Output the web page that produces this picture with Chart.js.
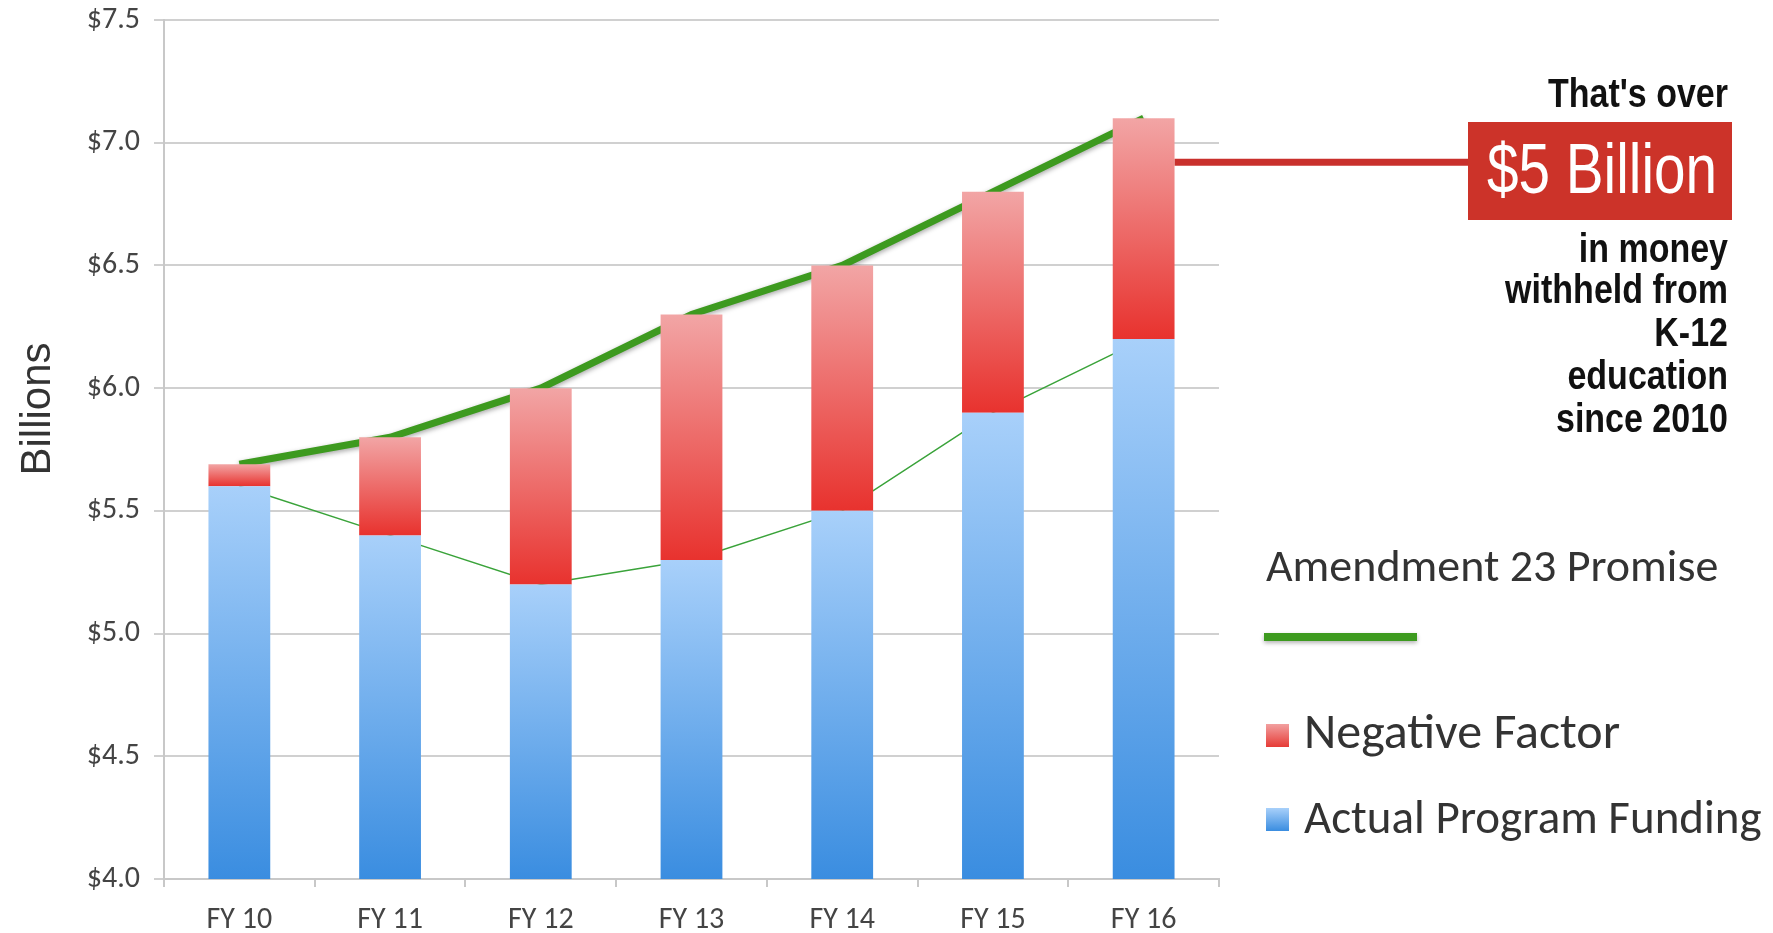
<!DOCTYPE html>
<html>
<head>
<meta charset="utf-8">
<script src="https://cdn.jsdelivr.net/npm/chart.js@4"></script>
<style>
html,body{margin:0;padding:0;background:#fff;}
#wrap{width:1773px;height:933px;}
</style>
</head>
<body>
<div id="wrap"><canvas id="fundingChart" width="1773" height="933"></canvas></div>
<script>
// DATA

const years=["FY 10","FY 11","FY 12","FY 13","FY 14","FY 15","FY 16"];

const actualFunding=[5.6,5.4,5.2,5.3,5.5,5.9,6.2];

const promise=[5.69,5.8,6.0,6.3,6.5,6.8,7.1];

const yTicks=[4.0,4.5,5.0,5.5,6.0,6.5,7.0,7.5];

// negative factor = gap between promise and actual funding
const negativeRange=actualFunding.map((a,i)=>[a,promise[i]]);

const tickFont="Carlito, Lato, sans-serif";
const sansFont="'Liberation Sans', Arial, sans-serif";

function barGradient(ctx,top,bottom,c1,c2){
const chart=ctx.chart;
if(!chart.chartArea) return c2;
const y=chart.scales.y;
const g=chart.ctx.createLinearGradient(0,y.getPixelForValue(top),0,y.getPixelForValue(bottom));
g.addColorStop(0,c1);
g.addColorStop(1,c2);
return g;
}

// no narrow font installed, so squeeze text sideways
function narrowText(c,text,x,y,sx){
c.save();
c.translate(x,y);
c.scale(sx,1);
c.fillText(text,0,0);
c.restore();
}

// soft shadow under the promise line
const lineShadow={
id:"lineShadow",
beforeDatasetDraw(chart,args){
if(args.index!==2) return;
const c=chart.ctx;
c.save();
c.shadowColor="rgba(0,0,0,0.35)";
c.shadowBlur=5;
c.shadowOffsetY=2;
},
afterDatasetDraw(chart,args){
if(args.index===2) chart.ctx.restore();
}
};

// legend + callout drawn by hand
const sidePanel={
id:"sidePanel",
afterDraw(chart){
const c=chart.ctx;
const y=chart.scales.y;
const x=chart.scales.x;
c.save();

// y axis title
c.save();
c.translate(38,409);
c.rotate(-Math.PI/2);
c.fillStyle="#333";
c.font="42px "+sansFont;
c.textAlign="center";
c.textBaseline="middle";
c.fillText("Billions",0,0);
c.restore();

// red connector from FY16 bar to box
const barRight=x.getPixelForValue(6)+31;
const ly=y.getPixelForValue(6.92);
c.strokeStyle="#c9302c";
c.lineWidth=7;
c.beginPath();
c.moveTo(barRight,ly);
c.lineTo(1468,ly);
c.stroke();

c.fillStyle="#cc3329";
c.fillRect(1468,122,264,98);

c.fillStyle="#fff";
c.font="70px "+sansFont;
c.textAlign="center";
c.textBaseline="middle";
narrowText(c,"$5 Billion",1602,174,0.81);

c.fillStyle="#111";
c.textAlign="right";
c.font="bold 40px "+sansFont;
narrowText(c,"That's over",1728,96,0.85);
const lines=["in money","withheld from","K-12","education","since 2010"];
const ys=[251,292,335,378,421];
lines.forEach((t,i)=>narrowText(c,t,1728,ys[i],0.85));

// legend
c.textAlign="left";
c.fillStyle="#333";
c.font="46px "+tickFont;
c.fillText("Amendment 23 Promise",1266,569);

c.shadowColor="rgba(0,0,0,0.3)";
c.shadowBlur=4;
c.shadowOffsetY=2;
c.strokeStyle="#3d9a1f";
c.lineWidth=8;
c.beginPath();
c.moveTo(1264,637);
c.lineTo(1417,637);
c.stroke();
c.shadowColor="transparent";

let g=c.createLinearGradient(0,724,0,747);
g.addColorStop(0,"#f2a0a0");
g.addColorStop(1,"#e63b36");
c.fillStyle=g;
c.fillRect(1266,724,23,23);
g=c.createLinearGradient(0,808,0,831);
g.addColorStop(0,"#a8d0fa");
g.addColorStop(1,"#3a8de0");
c.fillStyle=g;
c.fillRect(1266,808,23,23);

c.fillStyle="#333";
c.font="50px "+tickFont;
c.fillText("Negative Factor",1304,735);
c.font="47px "+tickFont;
c.fillText("Actual Program Funding",1304,821);

c.restore();
}
};

const fundingChart=document.getElementById("fundingChart");

new Chart(fundingChart,{

type:"bar",

data:{

labels:years,

datasets:[{

label:"Actual Program Funding",

data:actualFunding,

grouped:false,

order:1,

categoryPercentage:1,

barPercentage:0.41,

backgroundColor:(ctx)=>barGradient(ctx,actualFunding[ctx.dataIndex]||5,4,"#a8d0fa","#3a8de0")

},{

label:"Negative Factor",

data:negativeRange,

grouped:false,

order:1,

categoryPercentage:1,

barPercentage:0.41,

backgroundColor:(ctx)=>{
const i=ctx.dataIndex;
return barGradient(ctx,promise[i]||6,actualFunding[i]||5,"#f2a5a5","#e8322e");
}

},{

type:"line",

label:"Amendment 23 Promise",

data:promise,

order:3,

borderColor:"#3d9a1f",

borderWidth:7,

pointRadius:0,

tension:0

},{

type:"line",

label:"Actual line",

data:actualFunding,

order:2,

borderColor:"#3aa33a",

borderWidth:1.5,

pointRadius:0,

tension:0

}]

},

options:{

responsive:false,

animation:false,

layout:{
padding:{top:20,right:554,bottom:0,left:0}
},

plugins:{

legend:{display:false},

tooltip:{enabled:false}

},

scales:{

x:{

grid:{
offset:true,
drawOnChartArea:false,
tickLength:8,
color:"#c8c8c8",
lineWidth:2
},

border:{color:"#c8c8c8",width:2},

ticks:{
font:{family:tickFont,size:30},
color:"#444",
padding:15
},

afterFit(scale){scale.height=54;}

},

y:{

min:4,

max:7.5,

afterBuildTicks(scale){
scale.ticks=yTicks.map(v=>({value:v}));
},

grid:{
color:"#d0d0d0",
lineWidth:2,
tickLength:10
},

border:{color:"#c8c8c8",width:2},

ticks:{
font:{family:tickFont,size:30},
color:"#444",
padding:14,
callback:(v)=>"$"+Number(v).toFixed(1)
},

afterFit(scale){
scale.width=164;
scale.paddingTop=0;
scale.paddingBottom=0;
}

}

}

},

plugins:[lineShadow,sidePanel]

});
</script>
</body>
</html>
